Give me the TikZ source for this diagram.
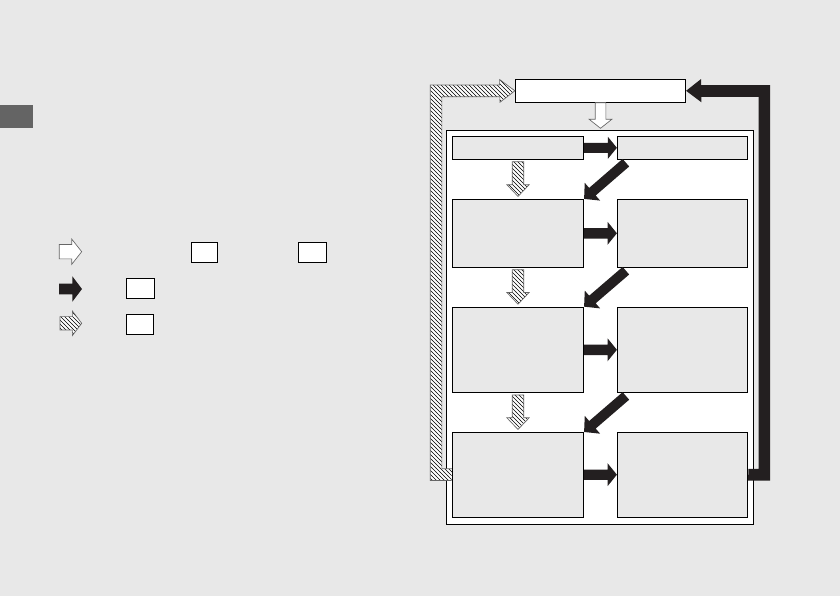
\documentclass[tikz,border=0pt]{standalone}
\usetikzlibrary{calc,patterns}

\definecolor{paper}{HTML}{E8E8E8}
\definecolor{ink}{HTML}{231F20}
\definecolor{tabgrey}{HTML}{646464}

%% block arrow: style, tail, tip, half shaft, half head, head length
\newcommand{\blockarr}[6]{%
  \coordinate (neck) at ($(#3)!#6!(#2)$);
  \draw[#1] ($(#2)!#4!90:(#3)$) -- ($(neck)!#4!-90:(#2)$) -- ($(neck)!#5!-90:(#2)$)
    -- (#3) -- ($(neck)!#5!90:(#2)$) -- ($(neck)!#4!90:(#2)$) -- ($(#2)!#4!-90:(#3)$) -- cycle;
}

\begin{document}
\begin{tikzpicture}[x=0.75pt, y=-0.75pt,
  box/.style={draw, line width=.6pt, inner sep=0pt, fill=white},
  cell/.style={box, fill=paper},
  whitearr/.style={draw=black!60, line width=.5pt, fill=white},
  blackarr/.style={fill=ink, draw=none},
  hatcharr/.style={draw=black!60, line width=.5pt, preaction={fill=white},
    pattern=north west lines, pattern color=black}]

%% page
\fill[paper] (0,0) rectangle (840,596);
\fill[tabgrey] (0,105) rectangle (33,127.7);

%% legend
\coordinate (kw0) at (59.3,251.7);
\coordinate (kw1) at (81.7,251.7);
\coordinate (kb0) at (59,289);
\coordinate (kb1) at (82,289);
\coordinate (kh0) at (60,323.3);
\coordinate (kh1) at (81.7,323.3);
\blockarr{whitearr}{kw0}{kw1}{5.4pt}{9.5pt}{7.5pt}
\blockarr{blackarr}{kb0}{kb1}{4.1pt}{9.6pt}{7.3pt}
\blockarr{hatcharr}{kh0}{kh1}{5pt}{9.2pt}{7pt}

\node[box, minimum width=19.7pt, minimum height=15pt] (lga) at (204.2,252.3) {};
\node[box, minimum width=21.3pt, minimum height=15pt] (lgb) at (312.5,252.3) {};
\node[box, minimum width=21.5pt, minimum height=15pt] (lgc) at (140.3,288.3) {};
\node[box, minimum width=20.8pt, minimum height=15.2pt] (lgd) at (139.9,324.2) {};

%% cycle
\node[box, minimum width=127.8pt, minimum height=17.25pt] (top) at (600.5,90.8) {};
\node[box, minimum width=230.25pt, minimum height=295.2pt] (frame) at (599.8,327.5) {};

\node[cell, minimum width=98.55pt, minimum height=17.25pt] (lb1) at (518,147.8) {};
\node[cell, minimum width=97.8pt, minimum height=17.25pt] (rb1) at (682.5,147.8) {};
\node[cell, minimum width=98.55pt, minimum height=51pt] (lb2) at (518,233.3) {};
\node[cell, minimum width=97.8pt, minimum height=51pt] (rb2) at (682.5,233.3) {};
\node[cell, minimum width=98.55pt, minimum height=64.1pt] (lb3) at (518,349.8) {};
\node[cell, minimum width=97.8pt, minimum height=64.1pt] (rb3) at (682.5,349.8) {};
\node[cell, minimum width=98.55pt, minimum height=63.5pt] (lb4) at (518,474.7) {};
\node[cell, minimum width=97.8pt, minimum height=63.5pt] (rb4) at (682.5,474.7) {};

%% feedback paths
\draw[hatcharr] (lb4.west) ++(-.3,5.8) -- ++(-21.3,0) -- ++(0,-395.5) -- ++(69.3,0)
  -- ++(0,-5.5) -- (top.west) -- ++(-15,11.5) -- ++(0,-5.5) -- ++(-58,0)
  -- ++(0,372) -- ++(10,0);

\draw[blackarr] (rb4.east) ++(0,5.8) -- ++(22,0) -- ++(0,-395.5) -- ++(-69,0)
  -- ++(0,-6) -- (top.east) -- ++(15.3,11.5) -- ++(0,-5.5) -- ++(57.3,0)
  -- ++(0,372) -- ++(-10.3,0) -- cycle;

%% arrows
\coordinate (fin) at ($(top.south |- frame.north)+(0,-2)$);
\blockarr{whitearr}{top.south}{fin}{4pt}{8.5pt}{6.75pt}

\blockarr{blackarr}{lb1.east}{rb1.west}{3.75pt}{8.25pt}{6.75pt}
\blockarr{blackarr}{lb2.east}{rb2.west}{3.9pt}{8.6pt}{7pt}
\blockarr{blackarr}{lb3.east}{rb3.west}{3.9pt}{8.6pt}{7pt}
\blockarr{blackarr}{lb4.east}{rb4.west}{3.9pt}{8.6pt}{7pt}

\coordinate (d1) at ($(rb1.south west)+(9,3)$);
\coordinate (d2) at ($(rb2.south west)+(9,3)$);
\coordinate (d3) at ($(rb3.south west)+(9,3)$);
\blockarr{blackarr}{d1}{lb2.north east}{3.75pt}{8.8pt}{8.25pt}
\blockarr{blackarr}{d2}{lb3.north east}{3.75pt}{8.8pt}{8.25pt}
\blockarr{blackarr}{d3}{lb4.north east}{3.75pt}{8.8pt}{8.25pt}

\coordinate (h1) at ($(lb1.south)+(0,2)$);
\coordinate (h2) at ($(lb2.south)+(0,2)$);
\coordinate (h3) at ($(lb3.south)+(0,2)$);
\coordinate (g2) at ($(lb2.north)+(0,-2.5)$);
\coordinate (g3) at ($(lb3.north)+(0,-2.5)$);
\coordinate (g4) at ($(lb4.north)+(0,-2.5)$);
\blockarr{hatcharr}{h1}{g2}{4.35pt}{8.4pt}{8.8pt}
\blockarr{hatcharr}{h2}{g3}{4.35pt}{8.4pt}{8.8pt}
\blockarr{hatcharr}{h3}{g4}{4.35pt}{8.4pt}{8.8pt}

\end{tikzpicture}
\end{document}
